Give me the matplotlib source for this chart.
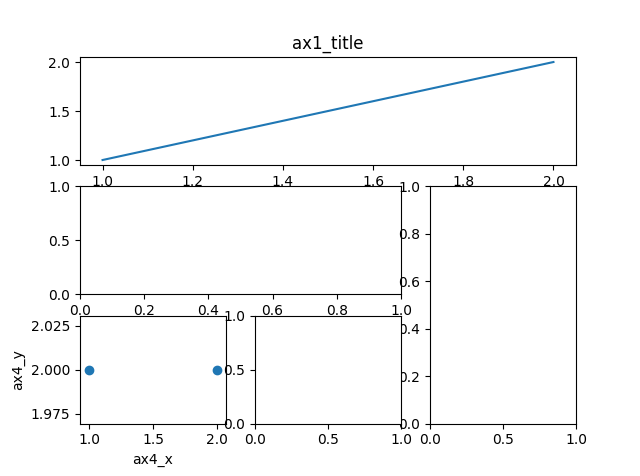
import matplotlib
matplotlib.use("Agg")
import matplotlib.pyplot as plt

line_x = [1, 2]
line_y = [1, 2]
scatter_x = [1, 2]
scatter_y = [2, 2]

fig = plt.figure(figsize=(6.4, 4.76), dpi=100)
ax1 = plt.subplot2grid((3, 3), (0, 0), colspan=3)
ax1.plot(line_x, line_y)
ax1.set_title('ax1_title')
ax2 = plt.subplot2grid((3, 3), (1, 0), colspan=2)
ax3 = plt.subplot2grid((3, 3), (1, 2), rowspan=2)
ax4 = plt.subplot2grid((3, 3), (2, 0))
ax4.scatter(scatter_x, scatter_y)
ax4.set_xlim(0.93, 2.07)
ax4.set_ylim(1.9693, 2.0307)
ax4.set_yticks([1.975, 2.0, 2.025])
ax4.set_xticks([1.0, 1.5, 2.0])
ax4.set_xlabel('ax4_x')
ax4.set_ylabel('ax4_y')
ax5 = plt.subplot2grid((3, 3), (2, 1))

fig.savefig('out.png', dpi=100)
